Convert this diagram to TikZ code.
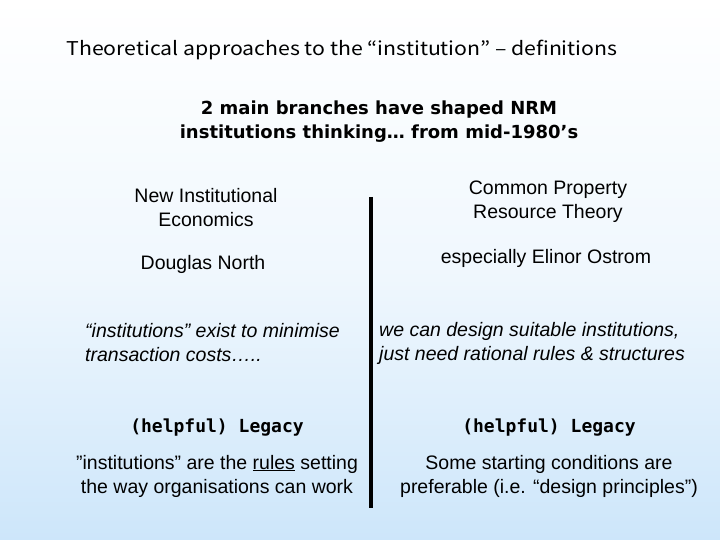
\documentclass[tikz,border=0pt]{standalone}
\usepackage{fontspec}
\setmainfont{Liberation Sans}
\newfontfamily\jpf{Noto Sans CJK JP}
\newfontfamily\vbf{DejaVu Sans}
\newfontfamily\monof{DejaVu Sans Mono}
\definecolor{bgblue}{RGB}{205,230,250}
\begin{document}
\begin{tikzpicture}[x=1pt,y=-1pt,
  txt/.style={font=\fontsize{19.5}{24}\selectfont,align=center,inner sep=0pt},
  itx/.style={font=\fontsize{19.5}{24}\selectfont\itshape,align=left,inner sep=0pt},
  leg/.style={font=\fontsize{18}{22}\selectfont\monof\bfseries,inner sep=0pt}]
\shade[top color=white,bottom color=bgblue,middle color=white!70!bgblue] (0,0) rectangle (720,540);
\useasboundingbox (0,0) rectangle (720,540);
\node[inner sep=0pt,font=\fontsize{19}{22}\selectfont\jpf,xscale=1.12] (title) at (342,50) {Theoretical approaches to the “institution” – definitions};
\node[inner sep=0pt,align=center,font=\fontsize{18}{24}\selectfont\vbf\bfseries] (sub) at (379,122) {2 main branches have shaped NRM\\institutions thinking… from mid-1980’s};
\node[txt] (nie) at (206,208) {New Institutional\\Economics};
\node[txt] (cpr) at (548,202) {Common Property\\Resource Theory};
\node[txt] (dn) at (203,264) {Douglas North};
\node[txt] (eo) at (546,258) {especially Elinor Ostrom};
\node[itx,anchor=west] (il) at (85,343) {“institutions” exist to minimise\\transaction costs…..};
\node[itx,anchor=west] (ir) at (379,343) {we can design suitable institutions,\\just need rational rules \& structures};
\node[leg] (l1) at (217,428) {(helpful) Legacy};
\node[leg] (l2) at (549,428) {(helpful) Legacy};
\node[txt] (bl) at (217,476) {”institutions” are the \underline{rules} setting\\the way organisations can work};
\node[txt] (br) at (549,476) {Some starting conditions are\\preferable (i.e. “design principles”)};
\coordinate (vt) at (371,197);
\coordinate (vb) at (371,508);
\draw[line width=4pt] (vt) -- (vb);
\end{tikzpicture}
\end{document}
